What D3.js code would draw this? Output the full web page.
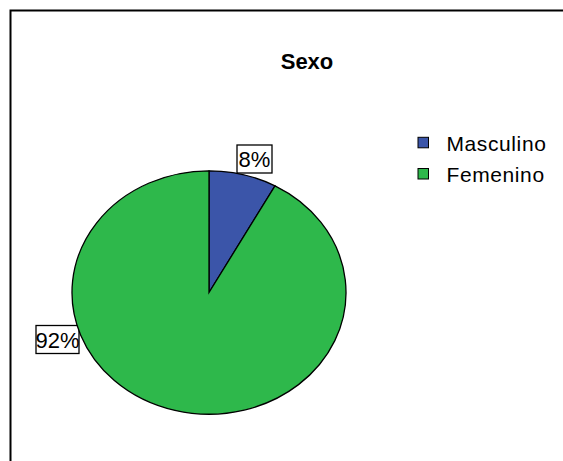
<!DOCTYPE html>
<html>
<head>
<meta charset="utf-8">
<script src="https://cdn.jsdelivr.net/npm/d3@7"></script>
<style>
  html, body { margin: 0; padding: 0; background: #fff; overflow: hidden; }
  svg { display: block; }
  text { font-family: "Liberation Sans", Arial, sans-serif; }
</style>
</head>
<body>
<svg id="chart" width="563" height="461"></svg>
<script>
// Data
const categories = ["Masculino", "Femenino"];
const percentages = [8, 92];
const colors = ["#3b55a9", "#2eb84b"];
const chartTitle = "Sexo";

const svg = d3.select("#chart");

// Outer frame: only its top and left edges fall inside the view
svg.append("path")
  .attr("d", "M10.5,470 V10.5 H570")
  .attr("fill", "none").attr("stroke", "#000").attr("stroke-width", 2);

// Title
svg.append("text")
  .attr("x", 307).attr("y", 68.5)
  .attr("text-anchor", "middle")
  .attr("font-size", 22).attr("font-weight", "bold")
  .text(chartTitle);

// Pie geometry: elliptical pie (horizontal stretch)
const cx = 209, cy = 292.5, rx = 137, ry = 121.7;
const pie = d3.pie().sort(null).value(d => d)(percentages);
const arc = d3.arc().innerRadius(0).outerRadius(ry);

// Value labels (drawn beneath the pie, so the pie overlaps them)
const labelPos = [[254.5, 159], [57.5, 339.5]];
const labelW = [35, 43];
const labelG = svg.append("g");
pie.forEach((p, i) => {
  labelG.append("rect")
    .attr("x", labelPos[i][0] - labelW[i] / 2).attr("y", labelPos[i][1] - 14)
    .attr("width", labelW[i]).attr("height", 28)
    .attr("fill", "#fff").attr("stroke", "#000").attr("stroke-width", 1.3);
  labelG.append("text")
    .attr("x", labelPos[i][0]).attr("y", labelPos[i][1] + 8)
    .attr("text-anchor", "middle")
    .attr("font-size", 22)
    .text(percentages[i] + "%");
});

// Slices
svg.append("g")
  .attr("transform", `translate(${cx},${cy}) scale(${rx / ry},1)`)
  .selectAll("path")
  .data(pie)
  .join("path")
  .attr("d", arc)
  .attr("fill", (d, i) => colors[i])
  .attr("stroke", "#000")
  .attr("stroke-width", 1.3)
  .attr("vector-effect", "non-scaling-stroke");

// Legend
const legend = svg.append("g");
categories.forEach((c, i) => {
  const y = 142.3 + i * 31.2;
  legend.append("rect")
    .attr("x", 418).attr("y", y - 5)
    .attr("width", 10.5).attr("height", 10.5)
    .attr("fill", colors[i]).attr("stroke", "#000").attr("stroke-width", 1);
  legend.append("text")
    .attr("x", 446.5).attr("y", y + 8.5)
    .attr("font-size", 21)
    .attr("letter-spacing", 0.6)
    .text(c);
});
</script>
</body>
</html>
